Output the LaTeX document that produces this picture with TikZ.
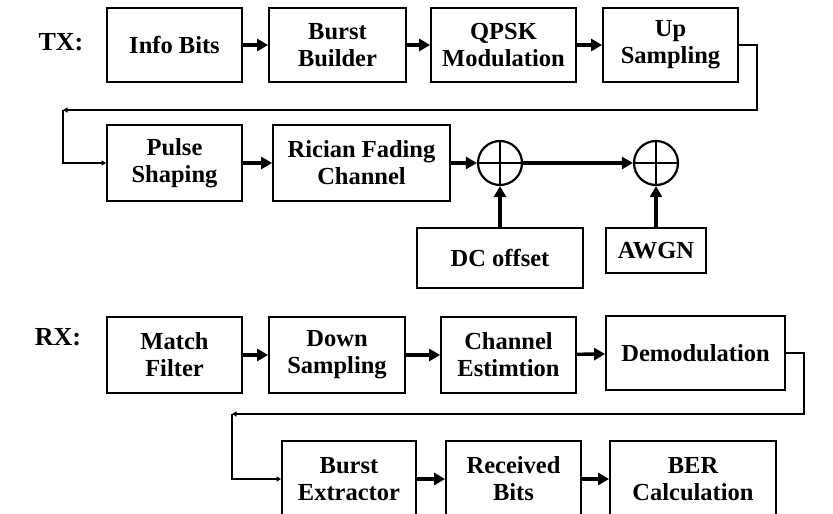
\documentclass[tikz,border=0pt]{standalone}
\usepackage{fontspec}
\setmainfont{Liberation Serif}
\usetikzlibrary{arrows.meta}
\tikzset{
  blk/.style={draw, line width=1.8pt, align=center, inner sep=2pt,
    font=\fontsize{24.5}{27}\selectfont\bfseries},
  summer/.style={circle, draw, line width=2.2pt, minimum size=44pt, inner sep=0pt,
    path picture={
      \draw[line width=2.2pt] (path picture bounding box.north) -- (path picture bounding box.south)
        (path picture bounding box.west) -- (path picture bounding box.east);}},
  tag/.style={font=\fontsize{26}{28}\selectfont\bfseries},
  flow/.style={line width=3.4pt, -{Triangle[length=11pt,width=12pt]}},
  back/.style={line width=1.3pt, -{Triangle[length=4.5pt,width=5pt]}}
}
\begin{document}
\begin{tikzpicture}[x=1pt,y=-1pt]
      \useasboundingbox (0,0) rectangle (833,514);
      \clip (0,0) rectangle (833,514);
      % transmitter
      \draw
        (61,42) node[tag] (tx){TX:}
        (174.5,45) node[blk, minimum width=135pt, minimum height=74pt] (info){Info Bits}
        (337.5,45) node[blk, minimum width=137pt, minimum height=74pt] (burst){Burst\\Builder}
        (503.5,45) node[blk, minimum width=145pt, minimum height=74pt] (qpsk){QPSK\\Modulation}
        (670.5,45) node[blk, minimum width=135pt, minimum height=74pt] (up){Up\\Sampling}
        (174.5,163) node[blk, minimum width=135pt, minimum height=76pt] (pulse){Pulse\\Shaping}
        (361.5,163) node[blk, minimum width=177pt, minimum height=76pt] (rician){Rician Fading\\Channel}
        (500,163) node[summer] (sum1){}
        (656,163) node[summer] (sum2){}
        (500,258) node[blk, minimum width=166pt, minimum height=60pt] (dc){DC offset}
        (656,250.5) node[blk, minimum width=100pt, minimum height=45pt] (awgn){AWGN};
      % receiver
      \draw
        (58,337) node[tag] (rx){RX:}
        (174.5,355) node[blk, minimum width=135pt, minimum height=76pt] (match){Match\\Filter}
        (337,355) node[blk, minimum width=136pt, minimum height=76pt] (down){Down\\Sampling}
        (508.5,355) node[blk, minimum width=135pt, minimum height=76pt] (chest){Channel\\Estimtion}
        (695.5,353) node[blk, minimum width=179pt, minimum height=74pt] (demod){Demodulation}
        (349,479) node[blk, minimum width=134pt, minimum height=76pt] (bext){Burst\\Extractor}
        (513.5,479) node[blk, minimum width=135pt, minimum height=76pt] (rbits){Received\\Bits}
        (693,479) node[blk, minimum width=166pt, minimum height=76pt] (ber){BER\\Calculation};
      \coordinate (tturn) at (63,110);
      \coordinate (rturn) at (232,414);
      \begin{scope}[flow]
        \draw (info) to (burst);
        \draw (burst) to (qpsk);
        \draw (qpsk) to (up);
        \draw (pulse) to (rician);
        \draw (rician) to (sum1);
        \draw (sum1) to (sum2);
        \draw (dc) to (sum1);
        \draw (awgn) to (sum2);
        \draw (match) to (down);
        \draw (down) to (chest);
        \draw (chest) to (demod);
        \draw (bext) to (rbits);
        \draw (rbits) to (ber);
      \end{scope}
      \begin{scope}[back]
        \draw (up.east) -- ++(18,0) |- (tturn);
        \draw (tturn) |- (pulse.west);
        \draw (demod.east) -- ++(18,0) |- (rturn);
        \draw (rturn) |- (bext.west);
      \end{scope}
    \end{tikzpicture}
\end{document}
